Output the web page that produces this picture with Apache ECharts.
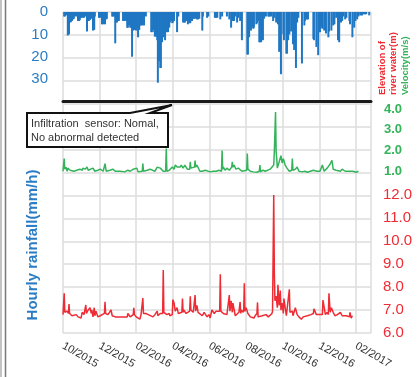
<!DOCTYPE html>
<html>
<head>
<meta charset="utf-8">
<script src="https://cdn.jsdelivr.net/npm/echarts@6/dist/echarts.min.js"></script>
<style>
  html, body { margin: 0; padding: 0; background: #fff; }
  #chart { width: 417px; height: 377px; }
</style>
</head>
<body>
<div id="chart"></div>
<script>
// x positions are days counted from 1 Oct 2015
var monthLabels = ["10/2015", "12/2015", "02/2016", "04/2016", "06/2016", "08/2016", "10/2016", "12/2016", "02/2017"];
var tickDays = [0, 61, 122, 183, 244, 305, 366, 427, 488];

// hourly rainfall (mm/h), bars hanging from the top
var rainDays = [2, 3, 5, 8, 10, 12, 13, 15, 17, 18, 20, 23, 25, 27, 28, 30, 32, 35, 37, 40, 42, 43, 45, 47, 50, 52, 53,
  60, 62, 63, 65, 67, 68, 70, 72, 73, 82, 83, 85, 87, 88, 90, 92, 93,
  100, 102, 103, 105, 107, 108, 110, 112, 113, 115, 117, 118, 120, 122, 123, 125, 127, 128, 130, 132, 133, 135, 138,
  147, 148, 150, 152, 153, 155, 157, 158, 160, 162, 163, 165, 167, 168, 170, 172, 173, 175, 177, 178, 180, 182, 183, 185, 190, 192,
  200, 202, 203, 205, 207, 208, 210, 212, 213, 215, 217, 218, 220, 223, 225, 227, 232, 233, 240, 242,
  253, 255, 257, 262, 265, 273, 277, 280, 282, 283, 285, 287, 290, 292, 295, 298,
  307, 308, 310, 313, 315, 317, 318, 322, 323, 325, 327, 328, 330, 333, 335, 338, 342, 343, 345, 347, 350, 352, 355, 358,
  360, 363, 367, 368, 372, 373, 375, 377, 380, 383, 385, 388, 390, 392, 398, 402, 403, 405, 407, 408,
  417, 418, 422, 425, 427, 428, 430, 432, 435, 438, 442, 443, 447, 450, 452, 455, 458, 460, 463, 465, 467, 470, 472, 477, 478,
  482, 485, 487, 490, 492, 495, 497, 498, 500, 502, 503, 505, 510];
var rainValues = [2, 2, 1.5, 10.5, 10, 4.7, 4.5, 4, 3.3, 3, 2, 2, 4, 4, 3.5, 2.6, 2.6, 2.6, 2, 8.7, 4, 4, 3.5, 3, 8.3, 8, 2,
  2.6, 2.6, 2, 5.5, 5.5, 5, 5.5, 3.3, 3, 2, 2, 2, 14, 4.7, 4.7, 4, 4,
  4, 4, 3.5, 4, 7, 7, 6, 7, 7, 20, 8.3, 8, 8, 8.3, 7, 11.3, 8, 6, 6, 6, 5.5, 6, 2,
  9, 9, 8, 9, 11, 11, 12.6, 31.6, 22, 25, 25, 13.5, 11.3, 11, 12.6, 9, 9, 9, 7, 4.7, 4, 5, 4.7, 4, 9, 2,
  4.7, 4.7, 4.7, 4, 4, 5.5, 5, 5, 4, 4, 3, 3, 3, 3.3, 3.3, 3, 8.3, 2, 2.6, 2,
  2.6, 2.6, 2.6, 3.3, 2, 2, 3.3, 7, 4, 4, 4, 2, 4.7, 2.6, 4, 12.6,
  19, 19, 11.3, 8.3, 7, 7.5, 7, 5.5, 5, 4, 13.5, 13.5, 13.5, 12.6, 3, 2, 2, 2, 2, 2, 4, 2.6, 4.7, 5.5,
  17.8, 27.8, 10, 12.6, 18.6, 18.6, 12.6, 10, 8.7, 14.4, 17, 25, 4.7, 2.6, 23, 6, 4, 3.3, 3.3, 3.3,
  12, 12.6, 15.6, 19.3, 9, 9, 7, 7.5, 8.3, 9.6, 11.3, 8.7, 8.3, 6, 5.5, 2.6, 12.6, 13.5, 4.7, 4, 2, 3.3, 2.6, 4, 5.5,
  11.3, 7, 4, 3.3, 2, 1.5, 1.5, 1.5, 1, 1, 1, 1, 1.5];

// velocity (m/s)
var velDays = [0, 1, 2, 3, 5, 7, 8, 12, 15, 18, 20, 23, 25, 28, 32, 33, 37, 40, 42, 45, 50, 53, 58, 62, 67, 69, 70, 72,
  78, 83, 87, 95, 103, 108, 112, 117, 123, 125, 128, 132, 133, 134, 137, 140, 145, 148, 153, 157, 162, 167,
  171, 172, 173, 177, 182, 185, 187, 190, 193, 195, 197, 200, 203, 207, 211, 212, 213, 215, 219, 220, 221, 223, 228, 232, 237, 240, 245, 250, 255, 260,
  262, 264, 265, 266, 267, 270, 273, 277, 278, 281, 282, 283, 285, 288, 292, 295, 298, 306, 307, 308, 312, 317, 320, 323, 327, 328, 329, 330,
  333, 337, 340, 345, 348, 351, 352, 354, 355, 356, 357, 360, 363, 365, 367, 370, 373, 377, 381, 382, 383, 387, 390, 393, 398,
  403, 407, 412, 417, 420, 423, 428, 432, 435, 440, 445, 448, 450, 455, 462, 465, 470, 475, 478, 483, 485, 488, 492];
var velValues = [1.0, 1.0, 1.61, 1.1, 1.2, 1.0, 1.15, 1.05, 1.0, 1.0, 0.95, 1.05, 1.0, 1.1, 1.05, 1.15, 1.1, 1.2, 1.05, 1.1, 1.15, 1.0, 1.05, 1.1, 1.0, 1.0, 1.37, 1.0,
  1.05, 1.1, 1.0, 1.0, 0.97, 1.05, 1.0, 1.1, 1.15, 0.97, 1.05, 1.0, 1.37, 1.0, 1.0, 1.05, 1.1, 1.15, 1.0, 1.2, 1.15, 1.0,
  1.0, 2.1, 1.0, 1.05, 1.2, 1.1, 1.3, 1.2, 1.25, 1.2, 1.3, 1.15, 1.3, 1.1, 1.1, 1.45, 1.15, 1.15, 1.2, 1.52, 1.2, 1.3, 1.0, 1.0, 1.05, 1.0, 0.97, 1.0, 1.0, 1.05,
  1.05, 1.0, 2.0, 1.1, 1.2, 1.05, 1.15, 1.05, 1.1, 1.2, 1.45, 1.2, 1.3, 1.1, 1.15, 1.1, 1.0, 1.05, 1.85, 1.1, 1.0, 0.97, 1.0, 0.95, 1.0, 1.3, 0.97, 1.05,
  1.05, 1.0, 1.05, 1.1, 1.15, 1.3, 1.93, 3.86, 1.93, 1.6, 1.15, 1.1, 1.75, 1.4, 1.6, 1.3, 1.15, 1.0, 1.05, 1.61, 1.05, 1.1, 1.2, 1.0, 0.97,
  1.0, 0.95, 1.0, 1.05, 1.1, 1.0, 1.0, 1.3, 1.0, 1.15, 1.35, 1.53, 1.1, 1.05, 1.0, 1.1, 1.0, 1.0, 1.0, 1.0, 1.05, 0.95, 1.0];

// elevation of river water (m)
var elevDays = [0, 1, 2, 3, 5, 7, 9, 10, 11, 12, 15, 18, 22, 25, 28, 30, 32, 35, 37, 38, 39, 40, 42, 45, 47, 48, 50, 52, 53, 55, 58, 62, 65,
  69, 70, 71, 75, 80, 82, 87, 92, 95, 100, 107, 108, 112, 115, 117, 118, 119, 122, 125, 128, 130, 132, 133, 134, 138, 142, 145, 150, 153, 157, 158, 162,
  165, 166, 167, 168, 170, 173, 177, 178, 182, 183, 185, 187, 190, 192, 195, 198, 199, 200, 201, 205, 208, 211, 212, 213, 217, 219, 220, 221, 223, 225, 228,
  232, 235, 240, 243, 245, 248, 252, 255, 258, 261, 262, 263, 267, 270, 273, 276, 277, 278, 280, 282, 283, 287, 290, 293, 294, 295, 296, 297,
  300, 301, 302, 303, 305, 308, 312, 315, 318, 320, 322, 323, 324, 325, 328, 332, 335, 338, 342, 345, 348, 349, 350, 351, 352, 353, 355, 357, 358,
  360, 362, 363, 365, 367, 368, 372, 375, 377, 378, 382, 383, 387, 390, 393, 397, 400, 403, 407, 410, 413, 417, 418, 422, 425, 428,
  431, 432, 433, 437, 440, 441, 442, 443, 445, 447, 450, 453, 457, 458, 462, 465, 468, 472, 475, 477, 478, 480, 482];
var elevValues = [6.8, 6.85, 7.73, 6.9, 6.85, 6.95, 6.85, 7.26, 6.85, 6.8, 6.75, 6.7, 6.8, 6.7, 6.75, 6.65, 6.9, 6.8, 6.85, 7.22, 6.85, 6.9, 7.0, 7.1, 6.85, 7.0, 6.7, 7.1, 6.75, 6.95, 6.7, 6.75, 6.8,
  6.85, 7.36, 6.85, 6.8, 7.0, 6.75, 6.7, 6.7, 6.75, 6.7, 6.7, 6.85, 6.7, 6.75, 6.8, 7.1, 6.8, 6.7, 6.75, 6.6, 6.8, 6.85, 7.52, 6.85, 6.85, 6.8, 6.75, 6.7, 6.8, 6.95, 6.75, 6.85,
  6.8, 6.85, 8.74, 6.9, 6.85, 6.8, 6.85, 6.75, 6.8, 7.45, 7.3, 6.95, 7.1, 6.85, 6.85, 6.9, 7.5, 6.9, 7.0, 6.85, 6.9, 6.95, 7.6, 7.0, 6.9, 6.95, 7.65, 6.95, 7.2, 6.9, 6.85,
  6.75, 6.9, 6.7, 6.8, 6.65, 7.0, 6.85, 6.95, 6.9, 6.95, 8.55, 6.95, 6.85, 6.9, 6.8, 6.85, 7.65, 6.95, 7.4, 6.9, 7.3, 6.75, 6.8, 6.9, 6.85, 7.35, 6.85, 7.0, 6.9,
  7.0, 8.16, 6.95, 7.1, 6.85, 6.7, 6.75, 6.65, 6.75, 6.8, 6.85, 7.33, 6.7, 6.7, 6.75, 6.7, 6.8, 6.7, 6.75, 6.85, 6.95, 6.9, 12.0, 8.6, 7.4, 7.6, 7.1, 8.1, 7.2,
  7.85, 7.0, 7.3, 6.85, 7.5, 6.75, 6.8, 7.9, 6.9, 6.95, 6.75, 7.1, 6.8, 6.7, 6.6, 6.7, 6.65, 6.75, 6.7, 6.8, 6.85, 7.05, 6.8, 6.75, 6.8, 6.85,
  6.8, 7.43, 6.8, 6.9, 6.85, 6.8, 7.73, 6.9, 7.1, 6.9, 6.75, 6.8, 6.75, 6.9, 6.75, 6.7, 6.75, 6.7, 6.7, 6.9, 6.65, 6.75, 6.7];

function zip(xs, ys) {
  return xs.map(function (x, i) { return [x, ys[i]]; });
}

var font = "'Liberation Sans', Arial, sans-serif";
var gridColor = "#dcdcdc";
var blue = "#2a7cc4";
var green = "#34b35a";
var red = "#ef2b34";
var L = 63, R = 46, XMAX = 513;

function hiddenX(idx) {
  return {
    gridIndex: idx, type: "value", min: 0, max: XMAX,
    axisLine: { show: false }, axisTick: { show: false },
    axisLabel: { show: false }, splitLine: { show: false }
  };
}

var chart = echarts.init(document.getElementById("chart"));
chart.setOption({
  animation: false,
  backgroundColor: "#fff",
  grid: [
    { left: L, right: R, top: 12, height: 321 },
    { left: L, right: R, top: 12, height: 89.5 },
    { left: L, right: R, top: 109, height: 83 },
    { left: L, right: R, top: 195, height: 138 }
  ],
  xAxis: [
    {
      gridIndex: 0, type: "value", min: 0, max: XMAX, interval: 61,
      axisLine: { show: false }, axisTick: { show: false },
      splitLine: { show: true, lineStyle: { color: gridColor, width: 1.5 } },
      axisLabel: {
        rotate: -30, margin: 12, color: "#2e2e2e", fontSize: 11, fontFamily: font,
        formatter: function (v) {
          var i = tickDays.indexOf(v);
          return i >= 0 ? monthLabels[i] : "";
        }
      }
    },
    {
      gridIndex: 1, type: "value", min: 0, max: XMAX,
      axisLine: { show: true, onZero: false, lineStyle: { color: "#1a1a1a", width: 3 } },
      axisTick: { show: false }, axisLabel: { show: false }, splitLine: { show: false }
    },
    hiddenX(2),
    hiddenX(3)
  ],
  yAxis: [
    {
      gridIndex: 0, type: "value", min: 0, max: 14, interval: 1,
      axisLine: { show: false }, axisTick: { show: false }, axisLabel: { show: false },
      splitLine: { show: true, lineStyle: { color: gridColor, width: 1.5 } }
    },
    {
      gridIndex: 1, type: "value", inverse: true, min: 0, max: 40, interval: 10,
      axisLine: { show: false }, axisTick: { show: false }, splitLine: { show: false },
      axisLabel: {
        color: blue, fontSize: 15, fontFamily: font, margin: 15,
        formatter: function (v) { return v === 40 ? "" : String(v); }
      }
    },
    {
      gridIndex: 2, type: "value", position: "right", min: 0, max: 4, interval: 1,
      axisLine: { show: false }, axisTick: { show: false }, splitLine: { show: false },
      axisLabel: {
        color: green, fontSize: 13, fontWeight: "bold", fontFamily: font, margin: 13,
        formatter: function (v) { return v === 0 ? "" : v.toFixed(1); }
      }
    },
    {
      gridIndex: 3, type: "value", position: "right", min: 6, max: 12, interval: 1,
      axisLine: { show: false }, axisTick: { show: false }, splitLine: { show: false },
      axisLabel: {
        color: red, fontSize: 15, fontFamily: font, margin: 12,
        formatter: function (v) { return v.toFixed(1); }
      }
    }
  ],
  series: [
    {
      type: "bar", xAxisIndex: 1, yAxisIndex: 1, barWidth: 2,
      itemStyle: { color: "#1f77c3" },
      data: zip(rainDays, rainValues)
    },
    {
      type: "line", xAxisIndex: 2, yAxisIndex: 2, symbol: "none",
      lineStyle: { color: green, width: 1.5 },
      data: zip(velDays, velValues)
    },
    {
      type: "line", xAxisIndex: 3, yAxisIndex: 3, symbol: "none",
      lineStyle: { color: red, width: 1.5 },
      data: zip(elevDays, elevValues)
    }
  ],
  graphic: [
    { type: "line", shape: { x1: 1, y1: 0, x2: 1, y2: 377 }, style: { stroke: "#c4c4c4", lineWidth: 2 } },
    { type: "line", shape: { x1: 5.5, y1: 0, x2: 5.5, y2: 377 }, style: { stroke: "#7a7a7a", lineWidth: 1.5 } },
    {
      type: "polygon", z: 100,
      shape: { points: [[27, 113], [130, 113], [172, 105], [150, 113], [168, 113], [168, 147], [27, 147]] },
      style: { fill: "#fff", stroke: "#111", lineWidth: 2 }
    },
    {
      type: "text", z: 101, x: 31, y: 124,
      style: { text: "Infiltration  sensor: Nomal,", font: "11px " + font, fill: "#333", verticalAlign: "middle" }
    },
    {
      type: "text", z: 101, x: 31, y: 138,
      style: { text: "No abnormal detected", font: "11px " + font, fill: "#333", verticalAlign: "middle" }
    },
    {
      type: "text", x: 33, y: 245, rotation: Math.PI / 2,
      style: { text: "Hourly rainfall(mm/h)", font: "bold 15px " + font, fill: blue, align: "center", verticalAlign: "middle" }
    },
    {
      type: "text", x: 382, y: 95, rotation: Math.PI / 2,
      style: { text: "Elevation of", font: "bold 9.5px " + font, fill: red, align: "left", verticalAlign: "middle" }
    },
    {
      type: "text", x: 393, y: 95, rotation: Math.PI / 2,
      style: { text: "river water(m)", font: "bold 9.5px " + font, fill: red, align: "left", verticalAlign: "middle" }
    },
    {
      type: "text", x: 405, y: 95, rotation: Math.PI / 2,
      style: { text: "Velocity(m/s)", font: "bold 9.5px " + font, fill: green, align: "left", verticalAlign: "middle" }
    }
  ]
});
</script>
</body>
</html>
